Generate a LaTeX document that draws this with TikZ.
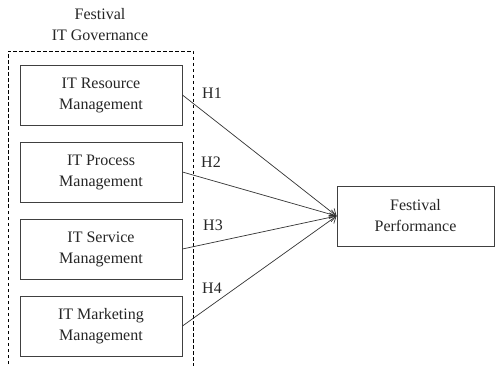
\documentclass[tikz,border=0pt]{standalone}
\usepackage{fontspec}
\setmainfont{Liberation Serif}
\usetikzlibrary{arrows.meta}
\begin{document}
\begin{tikzpicture}[x=1pt,y=-1pt,
  box/.style={draw=black!75,line width=0.9pt,minimum width=162pt,minimum height=60pt,align=center,font=\fontsize{16}{21}\selectfont,inner sep=0pt,text=black!85},
  conn/.style={draw=black!80,line width=0.7pt,-{Straight Barb[length=6pt,width=9pt]}},
  hlab/.style={font=\fontsize{16}{19}\selectfont,inner sep=0pt,text=black!85},
  grp/.style={draw=black,line width=0.7pt,dash pattern=on 3.5pt off 2.5pt}]
\useasboundingbox (0,0) rectangle (495,366);
\fill[white] (0,0) rectangle (495,366);
\draw[grp] (8,370) -- (8,51) -- (193,51) -- (193,370);
\node[align=center,font=\fontsize{16}{21}\selectfont,text=black!85] (title) at (100,25) {Festival\\IT Governance};
\node[box] (r) at (101,95) {IT Resource\\Management};
\node[box] (p) at (101,172) {IT Process\\Management};
\node[box] (s) at (101,249) {IT Service\\Management};
\node[box] (m) at (101,326) {IT Marketing\\Management};
\node[box,minimum width=157pt] (fp) at (415.5,216) {Festival\\Performance};
\draw[conn] (r.east) -- (fp.west);
\draw[conn] (p.east) -- (fp.west);
\draw[conn] (s.east) -- (fp.west);
\draw[conn] (m.east) -- (fp.west);
\node[hlab] (h1) at (212,93) {H1};
\node[hlab] (h2) at (211,162) {H2};
\node[hlab] (h3) at (213,225) {H3};
\node[hlab] (h4) at (212,288) {H4};
\end{tikzpicture}
\end{document}
